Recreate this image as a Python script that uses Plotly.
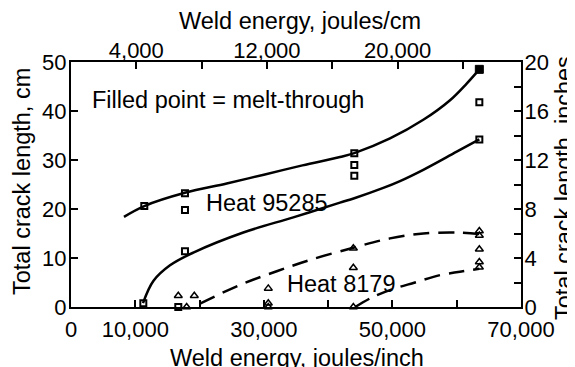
import plotly.graph_objects as go

# ---- data (weld energy in joules/inch, crack length in cm) ----
sq_open_x = [11400, 11250, 17730, 17730, 17730, 16690, 44070, 44070, 44070, 63520, 63520]
sq_open_y = [20.6, 0.75, 23.2, 19.8, 11.4, 0.0, 31.4, 29.0, 26.8, 41.8, 34.2]
sq_filled_x = [63520]
sq_filled_y = [48.5]
tri_x = [16690, 19180, 17990, 30690, 30690, 30690, 43920, 43920, 43920,
         63520, 63520, 63520, 63520, 63520]
tri_y = [2.3, 2.3, 0.0, 3.8, 0.75, 0.0, 12.0, 8.0, 0.0,
         15.5, 14.6, 11.8, 9.2, 8.1]

h95285_upper_x = [8240, 11400, 17730, 24220, 30000, 36000, 41840, 44070, 49620, 54800, 58960, 61550, 63520]
h95285_upper_y = [18.4, 20.6, 23.3, 25.2, 27.0, 28.9, 30.6, 31.4, 34.4, 38.2, 42.2, 45.6, 48.5]
h95285_lower_x = [11200, 12810, 15400, 19030, 26800, 34580, 41840, 44070, 48580, 51180, 54800, 60000, 63520]
h95285_lower_y = [0.8, 5.3, 8.5, 11.1, 15.2, 18.3, 21.3, 22.2, 24.3, 25.7, 28.0, 31.7, 34.2]
h8179_upper_x = [20070, 26290, 32000, 37180, 43920, 49620, 54800, 60000, 63520]
h8179_upper_y = [0.7, 4.5, 7.3, 9.6, 12.1, 14.0, 15.0, 15.2, 14.9]
h8179_lower_x = [44200, 47030, 50140, 53500, 57400, 60500, 63520]
h8179_lower_y = [0.0, 2.1, 3.7, 5.0, 6.5, 7.2, 7.8]

bottom_ticks = [0, 10000, 20000, 30000, 40000, 50000, 60000, 70000]
bottom_labels = ["0", "10,000", "", "30,000", "", "50,000", "", "70,000"]
top_ticks = [4000, 8000, 12000, 16000, 20000, 24000]
top_labels = ["4,000", "", "12,000", "", "20,000", ""]
left_ticks = [0, 10, 20, 30, 40, 50]
right_ticks = [0, 2, 4, 6, 8, 10, 12, 14, 16, 18, 20]
right_labels = ["0", "", "4", "", "8", "", "12", "", "16", "", "20"]

FONT = "Liberation Sans, Arial, Helvetica, sans-serif"
FS_TICK = 22
FS_TEXT = 23.5
BLACK = "black"
# page body has an 8px default margin; figure is sized/placed to compensate
OFF = 8

fig = go.Figure()

curve_style = dict(mode="lines", line=dict(color=BLACK, width=2.5, shape="spline", smoothing=1.0),
                   hoverinfo="skip", showlegend=False)
fig.add_trace(go.Scatter(x=h95285_upper_x, y=h95285_upper_y, **curve_style))
fig.add_trace(go.Scatter(x=h95285_lower_x, y=h95285_lower_y, **curve_style))
dash_style = dict(mode="lines", line=dict(color=BLACK, width=2.5, shape="spline", smoothing=1.0,
                                          dash="16px,9px"),
                  hoverinfo="skip", showlegend=False)
fig.add_trace(go.Scatter(x=h8179_upper_x, y=h8179_upper_y, **dash_style))
fig.add_trace(go.Scatter(x=h8179_lower_x, y=h8179_lower_y, **dash_style))

fig.add_trace(go.Scatter(x=sq_open_x, y=sq_open_y, mode="markers", cliponaxis=False,
                         marker=dict(symbol="square-open", size=6, color=BLACK, line=dict(width=2, color=BLACK)),
                         showlegend=False))
fig.add_trace(go.Scatter(x=sq_filled_x, y=sq_filled_y, mode="markers", cliponaxis=False,
                         marker=dict(symbol="square", size=8, color=BLACK, line=dict(width=1, color=BLACK)),
                         showlegend=False))
fig.add_trace(go.Scatter(x=tri_x, y=tri_y, mode="markers", cliponaxis=False,
                         marker=dict(symbol="triangle-up-open", size=7, color=BLACK, line=dict(width=1.5, color=BLACK)),
                         showlegend=False))
# secondary axes carrier (invisible)
fig.add_trace(go.Scatter(x=[0], y=[0], xaxis="x2", yaxis="y2", mode="markers",
                         marker=dict(opacity=0), hoverinfo="skip", showlegend=False))

axis_common = dict(showline=True, linecolor=BLACK, linewidth=2, ticks="inside", ticklen=7,
                   tickwidth=1.5, tickcolor=BLACK, showgrid=False, zeroline=False,
                   tickfont=dict(family=FONT, size=FS_TICK, color=BLACK), tickmode="array")

fig.update_layout(
    width=575 - OFF, height=367 - OFF,
    margin=dict(l=71 - OFF, r=54, t=62 - OFF, b=60, autoexpand=False),
    paper_bgcolor="white", plot_bgcolor="white",
    font=dict(family=FONT, size=FS_TICK, color=BLACK),
    xaxis=dict(range=[0, 70000], tickvals=bottom_ticks, ticktext=bottom_labels,
               ticklabelstandoff=2, **axis_common),
    yaxis=dict(range=[0, 50], tickvals=left_ticks, ticktext=[str(v) for v in left_ticks],
               ticklabelstandoff=-2, **axis_common),
    xaxis2=dict(range=[0, 70000 / 2.54], overlaying="x", side="top", anchor="y",
                tickvals=top_ticks, ticktext=top_labels, ticklabelstandoff=-7, **axis_common),
    yaxis2=dict(range=[0, 20], overlaying="y", side="right", anchor="x",
                tickvals=right_ticks, ticktext=right_labels, ticklabelstandoff=-3, **axis_common),
)

def px_to_paper(px, py):
    return (px - 71) / 450, (307 - py) / 245

annots = [
    ("Weld energy, joules/inch", 297, 358, 0),
    ("Weld energy, joules/cm", 300, 21, 0),
    ("Total crack length, cm", 22, 182, -90),
    ("Total crack length. inches", 564, 188, -90),
]
for text, px, py, ang in annots:
    ax, ay = px_to_paper(px, py)
    fig.add_annotation(text=text, x=ax, y=ay, xref="paper", yref="paper", showarrow=False,
                       textangle=ang, xanchor="center", yanchor="middle",
                       font=dict(family=FONT, size=FS_TEXT, color=BLACK))

inner = [
    ("Filled point = melt-through", 3000, 42.2),
    ("Heat 95285", 20700, 21.3),
    ("Heat 8179", 33300, 4.6),
]
for text, x, y in inner:
    fig.add_annotation(text=text, x=x, y=y, xref="x", yref="y", showarrow=False,
                       xanchor="left", yanchor="middle",
                       font=dict(family=FONT, size=FS_TEXT, color=BLACK))

fig.write_html("out.html")
